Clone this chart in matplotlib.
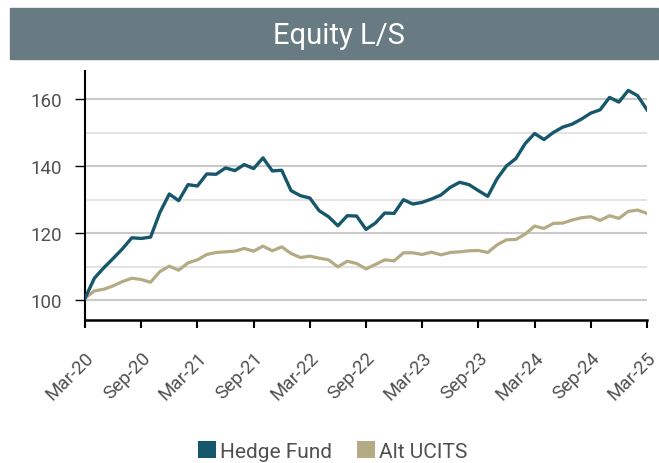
import matplotlib
matplotlib.use("Agg")
import matplotlib.pyplot as plt
from matplotlib.patches import Rectangle, Patch

# ---- data ----
tick_labels = ["Mar-20", "Sep-20", "Mar-21", "Sep-21", "Mar-22", "Sep-22",
               "Mar-23", "Sep-23", "Mar-24", "Sep-24", "Mar-25"]

hedge_fund = [100.5, 106.5, 109.6, 112.4, 115.3, 118.6, 118.4, 118.8, 126.2, 131.7,
              129.7, 134.5, 134.1, 137.7, 137.6, 139.5, 138.7, 140.5, 139.3, 142.5,
              138.6, 138.8, 132.7, 131.2, 130.5, 126.7, 124.9, 122.2, 125.2, 125.1,
              121.1, 123.0, 126.0, 125.9, 130.0, 128.7, 129.2, 130.2, 131.4, 133.7,
              135.2, 134.5, 132.7, 131.0, 136.3, 140.1, 142.3, 146.8, 149.8, 148.0,
              150.1, 151.7, 152.6, 154.1, 155.9, 156.9, 160.6, 159.2, 162.7, 161.1,
              156.9]

alt_ucits = [100.5, 102.7, 103.2, 104.2, 105.5, 106.5, 106.1, 105.3, 108.5, 110.1,
             108.9, 111.1, 112.0, 113.6, 114.2, 114.4, 114.6, 115.4, 114.6, 116.1,
             114.7, 115.9, 113.9, 112.7, 113.1, 112.5, 112.0, 109.9, 111.6, 110.9,
             109.3, 110.6, 112.0, 111.7, 114.1, 114.1, 113.6, 114.3, 113.5, 114.2,
             114.4, 114.7, 114.8, 114.2, 116.5, 118.0, 118.1, 119.7, 122.1, 121.4,
             122.9, 123.0, 123.9, 124.6, 124.9, 123.8, 125.2, 124.4, 126.5, 126.9,
             125.9]

series_names = ["Hedge Fund", "Alt UCITS"]
title = "Equity L/S"

# ---- style ----
HF_COLOR = "#17576b"
AU_COLOR = "#b4aa83"
BAR_COLOR = "#687b83"
TEXT_COLOR = "#505050"
FONT = ["Roboto", "DejaVu Sans"]
plt.rcParams["font.family"] = FONT

fig = plt.figure(figsize=(6.59, 4.64), dpi=100)
ax = fig.add_axes([85 / 659, 143 / 464, (647 - 85) / 659, (392 - 143) / 464])

months = list(range(len(hedge_fund)))

# gridlines
for v in [100, 120, 140, 160]:
    ax.axhline(v, color="#c9c9c9", lw=1.5, zorder=0)
for v in [110, 130, 150]:
    ax.axhline(v, color="#e3e3e3", lw=1.5, zorder=0)

ax.plot(months, alt_ucits, color=AU_COLOR, lw=2.3, zorder=2, solid_joinstyle="round")
ax.plot(months, hedge_fund, color=HF_COLOR, lw=2.4, zorder=3, solid_joinstyle="round")

ax.set_xlim(0, len(months) - 1)
ax.set_ylim(94, 168.5)
ax.set_yticks([100, 120, 140, 160])
ax.set_xticks(range(0, len(months), 6))
ax.set_xticklabels(tick_labels, rotation=45, ha="right", va="top",
                   rotation_mode="anchor", fontsize=13.5, color=TEXT_COLOR)
for lab in ax.get_yticklabels():
    lab.set_fontsize(13.5)
    lab.set_color(TEXT_COLOR)

ax.tick_params(axis="y", length=7.5, width=1.0, color="black", pad=9)
ax.tick_params(axis="x", length=6, width=1.5, color="black", pad=14)

for s in ["top", "right"]:
    ax.spines[s].set_visible(False)
ax.spines["left"].set_linewidth(1.5)
ax.spines["bottom"].set_linewidth(1.8)

# title bar
fig.patches.append(Rectangle((10 / 659, 1 - 60 / 464), (658 - 10) / 659, 51 / 464,
                             transform=fig.transFigure, color=BAR_COLOR, zorder=0))
fig.text(339 / 659, 1 - 43.5 / 464, title, color="white", fontsize=21,
         ha="center", va="baseline")

handles = [Patch(facecolor=HF_COLOR, edgecolor="none", label=series_names[0]),
           Patch(facecolor=AU_COLOR, edgecolor="none", label=series_names[1])]
leg = fig.legend(handles=handles, loc="center", bbox_to_anchor=(333 / 659, 12 / 464),
                 ncol=2, frameon=False, fontsize=15, handlelength=0.85,
                 handleheight=0.85, handletextpad=0.2, columnspacing=1.2)
for t in leg.get_texts():
    t.set_color(TEXT_COLOR)

fig.savefig("out.png", dpi=100)
